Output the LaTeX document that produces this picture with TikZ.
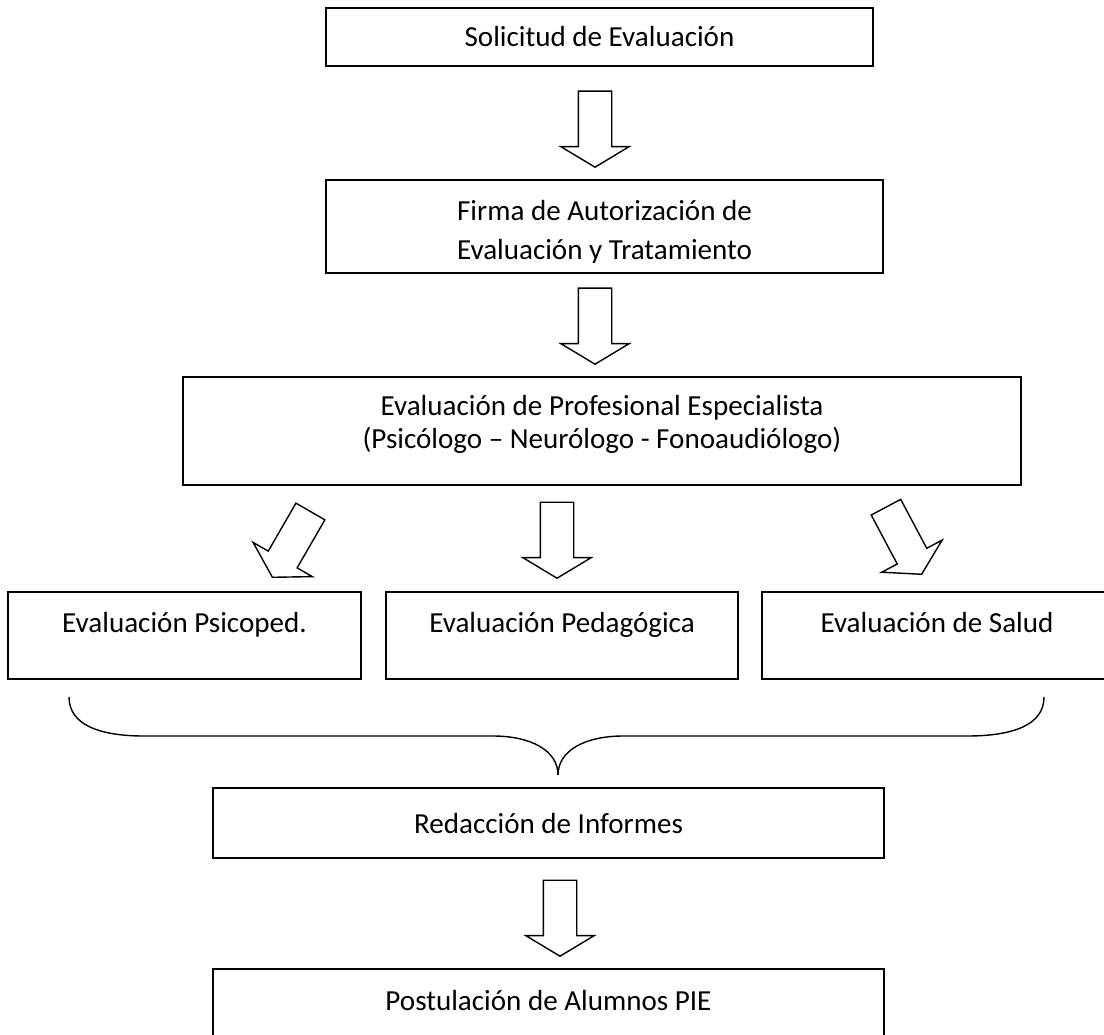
\documentclass[tikz,border=0pt]{standalone}
\usepackage{fontspec}
\setmainfont{Carlito}
\usetikzlibrary{shapes.arrows}
\tikzset{
  caja/.style={draw, line width=1pt, inner sep=0pt},
  flecha/.style={draw, single arrow, single arrow head extend=0.35cm,
    single arrow tip angle=118, minimum height=1.52cm,
    text height=0pt, text depth=0pt, inner xsep=0pt, inner ysep=0.32cm,
    line width=0.8pt, anchor=tip},
  texto/.style={anchor=base, inner sep=0pt, font=\fontsize{16.55}{20}\selectfont}
}
\begin{document}
\begin{tikzpicture}[x=0.02cm, y=-0.02cm]
\useasboundingbox (0,0) rectangle (1104,1034);
% Cajas
\node[caja, minimum width=10.94cm, minimum height=1.16cm] (solic) at (599.5,37) {};
\node[caja, minimum width=11.14cm, minimum height=1.86cm] (firma) at (604.5,226.5) {};
\node[caja, minimum width=16.76cm, minimum height=2.16cm] (prof) at (602,431) {};
\node[caja, minimum width=7.06cm, minimum height=1.74cm] (psico) at (184.5,635.5) {};
\node[caja, minimum width=7.04cm, minimum height=1.74cm] (peda) at (562,635.5) {};
\node[caja, minimum width=7.00cm, minimum height=1.74cm] (salud) at (937,635.5) {};
\node[caja, minimum width=13.42cm, minimum height=1.40cm] (redac) at (548.5,823) {};
\node[caja, minimum width=13.42cm, minimum height=1.42cm] (postu) at (548.5,1004.5) {};
% Flechas
\node[flecha, rotate=-90] (f1) at (595,168) {};
\node[flecha, rotate=-90] (f2) at (595,365) {};
\node[flecha, rotate=-120] (fpsico) at (272,578) {};
\node[flecha, rotate=-90] (fpeda) at (557,579) {};
\node[flecha, rotate=-62] (fsalud) at (922,575) {};
\node[flecha, rotate=-90] (f3) at (560,957) {};
% Llave
\draw[line width=0.8pt] (69,697) .. controls (69,725) and (100,736) .. (144,736)
  -- (493,736) .. controls (530,736) and (558,750) .. (558,775);
\draw[line width=0.8pt] (558,775) .. controls (558,750) and (586,736) .. (623,736)
  -- (967,736) .. controls (1013,736) and (1044,725) .. (1044,697);
% Textos
\node[texto] (solicT) at (599.5,47) {Solicitud de Evaluación};
\node[texto] (firmaT) at (604.5,220) {Firma de Autorización de};
\begin{scope}
\clip (326,180) rectangle (883,262);
\node[texto] (firmaTb) at (604.5,259) {Evaluación y Tratamiento};
\end{scope}
\node[texto] (profT) at (602,415) {Evaluación de Profesional Especialista};
\node[texto] (profTb) at (602,448) {(Psicólogo – Neurólogo - Fonoaudiólogo)};
\node[texto] (psicoT) at (184.5,632) {Evaluación Psicoped.};
\node[texto] (pedaT) at (562,632) {Evaluación Pedagógica};
\node[texto] (saludT) at (937,632) {Evaluación de Salud};
\node[texto] (redacT) at (548.5,833) {Redacción de Informes};
\node[texto] (postuT) at (548.5,1010) {Postulación de Alumnos PIE};
\end{tikzpicture}
\end{document}
